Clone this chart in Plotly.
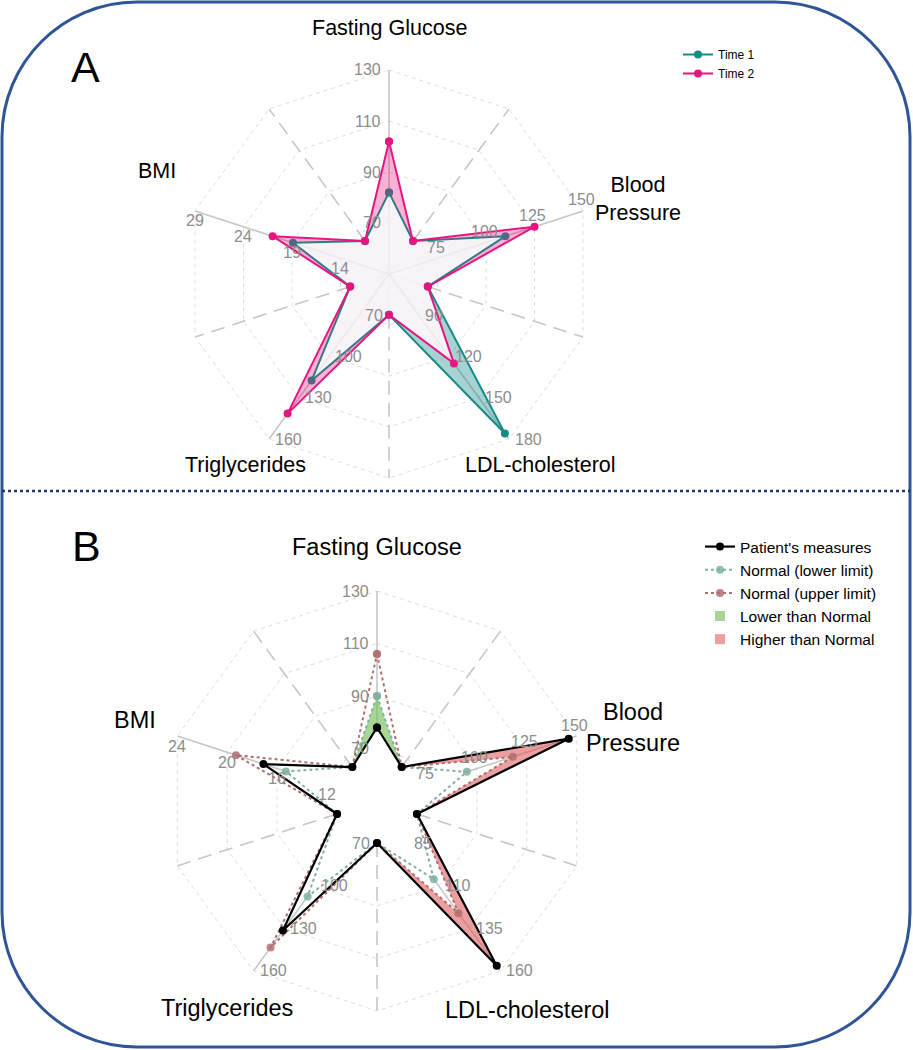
import numpy as np
import plotly.graph_objects as go

W, H = 913, 1050

# ---------------- data ----------------
variables = ["Fasting Glucose", "Blood Pressure", "LDL-cholesterol", "Triglycerides", "BMI"]
var_titles = ["Fasting Glucose", "Blood<br>Pressure", "LDL-cholesterol", "Triglycerides", "BMI"]

# Panel A axis tick labels (per variable)
ticks_A = [[70, 90, 110, 130], [75, 100, 125, 150], [90, 120, 150, 180],
           [70, 100, 130, 160], [14, 19, 24, 29]]
time1 = [82, 110, 176, 117.5, 18.9]
time2 = [102, 125, 125, 141.5, 21]

# Panel B axis tick labels (per variable)
ticks_B = [[70, 90, 110, 130], [75, 100, 125, 150], [85, 110, 135, 160],
           [70, 100, 130, 160], [12, 16, 20, 24]]
patient = [78, 146, 157, 131.5, 17.1]
normal_lower = [90, 95, 106, 107.5, 15.3]
normal_upper = [106, 118, 126, 143.5, 19.3]

spacer_value = 0.2   # value of the in-between (spacer) spokes, as fraction of radius

# ---------------- geometry / style ----------------
CA, RA = (389, 274), 204
CB, RB = (377, 801), 210
FONT = "Liberation Sans, Arial, sans-serif"
TEAL = "#168A86"
PINK = "#E6157F"
LOWC = "#7FB0A0"
UPC = "#B06E6E"

var_theta = [72 * i for i in range(5)]
spc_theta = [72 * i + 36 for i in range(5)]


def norm(vals, ticks):
    out = []
    for v, t in zip(vals, ticks):
        step = t[1] - t[0]
        lo, hi = t[0] - step, t[-1]
        out.append((v - lo) / (hi - lo))
    return out


def star(rs):
    r, th = [], []
    for i in range(5):
        r += [rs[i], spacer_value]
        th += [var_theta[i], spc_theta[i]]
    return r + [rs[0]], th + [360]


def domain(c, R):
    return dict(x=[(c[0] - R) / W, (c[0] + R) / W],
                y=[1 - (c[1] + R) / H, 1 - (c[1] - R) / H])


def paper(x, y):
    return x / W, 1 - y / H


fig = go.Figure()


def grid(sub, ticks):
    # rings
    r, th = [], []
    t0 = ticks[0]
    lo_, hi_ = t0[0] - (t0[1] - t0[0]), t0[-1]
    for t in t0:
        f = (t - lo_) / (hi_ - lo_)
        r += [f] * 11 + [None]
        th += list(range(0, 361, 36)) + [None]
    fig.add_trace(go.Scatterpolar(r=r, theta=th, mode="lines", subplot=sub, showlegend=False,
                                  line=dict(color="#DCDCDC", width=1, dash="4px,4px"),
                                  hoverinfo="skip"))
    # faint inner spokes
    r, th = [], []
    for t in spc_theta:
        r += [0, spacer_value, None]
        th += [t, t, None]
    fig.add_trace(go.Scatterpolar(r=r, theta=th, mode="lines", subplot=sub, showlegend=False,
                                  line=dict(color="#E6E6E6", width=1), hoverinfo="skip"))
    # dashed spacer spokes
    r, th = [], []
    for t in spc_theta:
        r += [spacer_value, 1, None]
        th += [t, t, None]
    fig.add_trace(go.Scatterpolar(r=r, theta=th, mode="lines", subplot=sub, showlegend=False,
                                  line=dict(color="#C6C6C6", width=1.6, dash="14px,8px"),
                                  hoverinfo="skip"))
    # solid variable spokes
    r, th = [], []
    for t in var_theta:
        r += [0, 1, None]
        th += [t, t, None]
    fig.add_trace(go.Scatterpolar(r=r, theta=th, mode="lines", subplot=sub, showlegend=False,
                                  line=dict(color="#C6C6C6", width=1.6), hoverinfo="skip"))


def spacer_dots(sub):
    fig.add_trace(go.Scatterpolar(r=[spacer_value] * 5, theta=spc_theta, mode="markers",
                                  subplot=sub, showlegend=False,
                                  marker=dict(color="#C4C4C4", size=8), hoverinfo="skip"))


# ---------------- Panel A ----------------
grid("polar", ticks_A)
t1 = norm(time1, ticks_A)
t2 = norm(time2, ticks_A)
mn = [min(a, b) for a, b in zip(t1, t2)]
r_mn, th_s = star(mn)
r_t1, _ = star(t1)
r_t2, _ = star(t2)

fig.add_trace(go.Scatterpolar(r=r_mn, theta=th_s, mode="lines", fill="toself",
                              fillcolor="rgba(247,240,244,0.82)", line=dict(width=0),
                              subplot="polar", showlegend=False, hoverinfo="skip"))
fig.add_trace(go.Scatterpolar(r=r_t1, theta=th_s, mode="lines", fill="tonext",
                              fillcolor="rgba(22,138,134,0.38)", line=dict(width=0),
                              subplot="polar", showlegend=False, hoverinfo="skip"))
spacer_dots("polar")
fig.add_trace(go.Scatterpolar(r=r_t1, theta=th_s, mode="lines+markers", name="Time 1",
                              line=dict(color=TEAL, width=2), marker=dict(color=TEAL, size=8),
                              subplot="polar", legend="legend"))
fig.add_trace(go.Scatterpolar(r=r_mn, theta=th_s, mode="lines", line=dict(width=0),
                              subplot="polar", showlegend=False, hoverinfo="skip"))
fig.add_trace(go.Scatterpolar(r=r_t2, theta=th_s, mode="lines", fill="tonext",
                              fillcolor="rgba(230,21,127,0.33)", line=dict(width=0),
                              subplot="polar", showlegend=False, hoverinfo="skip"))
fig.add_trace(go.Scatterpolar(r=r_t2, theta=th_s, mode="lines+markers", name="Time 2",
                              line=dict(color=PINK, width=2), marker=dict(color=PINK, size=8),
                              subplot="polar", legend="legend"))

# ---------------- Panel B ----------------
grid("polar2", ticks_B)
pt = norm(patient, ticks_B)
lo = norm(normal_lower, ticks_B)
up = norm(normal_upper, ticks_B)
r_pt, _ = star(pt)
r_lo, _ = star(lo)
r_up, _ = star(up)
r_max_up, _ = star([max(a, b) for a, b in zip(pt, up)])
r_min_lo, _ = star([min(a, b) for a, b in zip(pt, lo)])
r_inner, _ = star([min(a, b, c) for a, b, c in zip(pt, lo, up)])

fig.add_trace(go.Scatterpolar(r=r_inner, theta=th_s, mode="lines", fill="toself",
                              fillcolor="white", line=dict(width=0),
                              subplot="polar2", showlegend=False, hoverinfo="skip"))
fig.add_trace(go.Scatterpolar(r=r_up, theta=th_s, mode="lines", line=dict(width=0),
                              subplot="polar2", showlegend=False, hoverinfo="skip"))
fig.add_trace(go.Scatterpolar(r=r_max_up, theta=th_s, mode="lines", fill="tonext",
                              fillcolor="rgba(218,80,80,0.55)", line=dict(width=0),
                              subplot="polar2", showlegend=False, hoverinfo="skip"))
fig.add_trace(go.Scatterpolar(r=r_min_lo, theta=th_s, mode="lines", line=dict(width=0),
                              subplot="polar2", showlegend=False, hoverinfo="skip"))
fig.add_trace(go.Scatterpolar(r=r_lo, theta=th_s, mode="lines", fill="tonext",
                              fillcolor="rgba(120,190,90,0.65)", line=dict(width=0),
                              subplot="polar2", showlegend=False, hoverinfo="skip"))
spacer_dots("polar2")
fig.add_trace(go.Scatterpolar(r=r_lo, theta=th_s, mode="lines+markers", name="Normal (lower limit)",
                              line=dict(color=LOWC, width=2, dash="dot"),
                              marker=dict(color=LOWC, size=8, opacity=0.85),
                              subplot="polar2", legend="legend2", legendrank=2))
fig.add_trace(go.Scatterpolar(r=r_up, theta=th_s, mode="lines+markers", name="Normal (upper limit)",
                              line=dict(color=UPC, width=2, dash="dot"),
                              marker=dict(color=UPC, size=8, opacity=0.85),
                              subplot="polar2", legend="legend2", legendrank=3))
fig.add_trace(go.Scatterpolar(r=r_pt, theta=th_s, mode="lines+markers", name="Patient's measures",
                              line=dict(color="black", width=2.2),
                              marker=dict(color="black", size=8),
                              subplot="polar2", legend="legend2", legendrank=1))
fig.add_trace(go.Scatterpolar(r=[None], theta=[None], mode="markers", name="Lower than Normal",
                              marker=dict(color="rgba(120,190,90,0.65)", size=10, symbol="square"),
                              subplot="polar2", legend="legend2", legendrank=4))
fig.add_trace(go.Scatterpolar(r=[None], theta=[None], mode="markers", name="Higher than Normal",
                              marker=dict(color="rgba(218,80,80,0.55)", size=10, symbol="square"),
                              subplot="polar2", legend="legend2", legendrank=5))

# ---------------- annotations ----------------
ann = []
tick_style = [dict(xanchor="right", xshift=-6, yshift=0),
              dict(xanchor="center", xshift=-2, yshift=11),
              dict(xanchor="left", xshift=4, yshift=0),
              dict(xanchor="left", xshift=4, yshift=0),
              dict(xanchor="center", xshift=0, yshift=-10)]


def tick_labels(c, R, ticks):
    for i, tl in enumerate(ticks):
        step = tl[1] - tl[0]
        lo_, hi_ = tl[0] - step, tl[-1]
        th = np.deg2rad(var_theta[i])
        for t in tl:
            f = (t - lo_) / (hi_ - lo_)
            x, y = paper(c[0] + f * R * np.sin(th), c[1] - f * R * np.cos(th))
            ann.append(dict(x=x, y=y, xref="paper", yref="paper", text=str(t), showarrow=False,
                            yanchor="middle", font=dict(size=16, color="#8C8C8C", family=FONT),
                            **tick_style[i]))


tick_labels(CA, RA, ticks_A)
tick_labels(CB, RB, ticks_B)

title_pos_A = [(389, 28), (638, 199), (540, 465), (245, 465), (157, 171)]
title_pos_B = [(377, 547), (633, 727), (527, 1010), (227, 1008), (135, 720)]
for pos, size in ((title_pos_A, 21.5), (title_pos_B, 23.5)):
    for (px, py), t in zip(pos, var_titles):
        x, y = paper(px, py)
        ann.append(dict(x=x, y=y, xref="paper", yref="paper", text=t, showarrow=False,
                        xanchor="center", yanchor="middle",
                        font=dict(size=size, color="black", family=FONT)))

for letter, (px, py) in (("A", (85, 67)), ("B", (86, 546))):
    x, y = paper(px, py)
    ann.append(dict(x=x, y=y, xref="paper", yref="paper", text=letter, showarrow=False,
                    xanchor="center", yanchor="middle",
                    font=dict(size=43, color="black", family=FONT)))

# ---------------- border & divider ----------------
L, Rr, T, B, rad = 2, 910, 2, 1047, 135
k = 0.5523 * rad


def P(x, y):
    a, b = paper(x, y)
    return f"{a:.5f},{b:.5f}"


path = (f"M {P(L + rad, T)} L {P(Rr - rad, T)} "
        f"C {P(Rr - rad + k, T)} {P(Rr, T + rad - k)} {P(Rr, T + rad)} "
        f"L {P(Rr, B - rad)} "
        f"C {P(Rr, B - rad + k)} {P(Rr - rad + k, B)} {P(Rr - rad, B)} "
        f"L {P(L + rad, B)} "
        f"C {P(L + rad - k, B)} {P(L, B - rad + k)} {P(L, B - rad)} "
        f"L {P(L, T + rad)} "
        f"C {P(L, T + rad - k)} {P(L + rad - k, T)} {P(L + rad, T)} Z")

shapes = [
    dict(type="path", xref="paper", yref="paper", path=path,
         line=dict(color="#2F5597", width=3), fillcolor="rgba(0,0,0,0)"),
    dict(type="line", xref="paper", yref="paper", x0=L / W, x1=Rr / W,
         y0=1 - 491 / H, y1=1 - 491 / H, line=dict(color="#203864", width=2.5, dash="dot")),
]

polar_common = dict(bgcolor="rgba(0,0,0,0)",
                    radialaxis=dict(visible=False, range=[0, 1]),
                    angularaxis=dict(visible=False, rotation=90, direction="clockwise"))

fig.update_layout(
    width=W, height=H, margin=dict(l=0, r=0, t=0, b=0),
    paper_bgcolor="white", plot_bgcolor="white",
    font=dict(family=FONT),
    polar=dict(domain=domain(CA, RA), **polar_common),
    polar2=dict(domain=domain(CB, RB), **polar_common),
    legend=dict(x=678 / W, y=1 - 40 / H, xanchor="left", yanchor="top",
                font=dict(size=12, color="black", family=FONT), bgcolor="rgba(0,0,0,0)"),
    legend2=dict(x=700 / W, y=1 - 530 / H, xanchor="left", yanchor="top",
                 font=dict(size=15.5, color="black", family=FONT), bgcolor="rgba(0,0,0,0)"),
    annotations=ann, shapes=shapes,
)

fig.write_html("out.html", config={"displayModeBar": False},
               post_script="document.body.style.margin='0px';document.body.style.overflow='hidden';")
